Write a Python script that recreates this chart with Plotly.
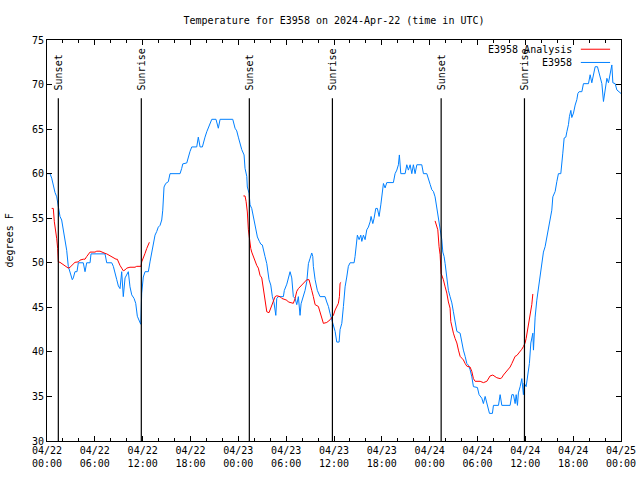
import pandas as pd
import plotly.graph_objects as go

start = pd.Timestamp("2024-04-22 00:00")

# E3958 observed temperature (hours since start, degrees F)
obs_hours = [0, 0.38, 0.59, 0.79, 1.00, 1.22, 1.42, 1.63, 1.84, 2.05, 2.26, 2.47, 2.67, 2.89, 3.17, 3.30, 3.51, 3.76, 3.93, 4.55, 4.77, 4.98, 5.40, 5.52, 7.28, 7.49, 8.12, 8.32, 8.53, 8.75, 8.95, 9.16, 9.37, 9.57, 9.79, 10.00, 10.20, 10.41, 10.63, 10.92, 11.13, 11.33, 11.54, 11.76, 11.88, 12.08, 12.30, 12.71, 12.92, 13.34, 13.55, 13.76, 13.96, 14.18, 14.39, 14.52, 14.68, 14.89, 15.22, 15.43, 16.69, 16.90, 17.03, 17.53, 17.73, 17.94, 18.16, 18.78, 18.98, 19.20, 19.49, 19.61, 19.82, 20.04, 20.24, 20.45, 20.67, 21.20, 21.49, 21.71, 23.30, 23.59, 23.80, 24.00, 24.22, 24.43, 24.72, 24.84, 25.06, 25.13, 25.35, 25.47, 25.68, 25.88, 26.10, 26.22, 26.39, 26.64, 26.81, 27.01, 27.14, 27.35, 27.57, 27.85, 28.07, 28.27, 28.48, 28.70, 28.82, 29.02, 29.65, 29.77, 30.08, 30.28, 30.49, 30.70, 30.90, 31.12, 31.33, 31.53, 31.74, 31.87, 32.16, 32.37, 32.59, 32.79, 33.00, 33.21, 33.34, 33.41, 33.63, 33.91, 34.25, 34.88, 35.09, 35.30, 35.51, 35.72, 35.92, 36.14, 36.35, 36.64, 36.76, 36.98, 37.18, 37.39, 37.60, 37.80, 38.02, 38.52, 38.64, 38.77, 38.93, 39.15, 39.36, 39.49, 39.69, 39.90, 40.11, 40.31, 40.53, 40.65, 40.87, 41.03, 41.24, 41.44, 41.66, 41.87, 42.07, 42.20, 42.41, 42.62, 43.45, 43.66, 43.88, 44.08, 44.20, 44.38, 44.92, 45.13, 45.33, 45.55, 45.76, 45.96, 46.17, 46.39, 47.01, 47.22, 47.64, 47.84, 48.06, 48.27, 48.47, 48.68, 48.81, 48.97, 49.10, 49.31, 49.52, 49.65, 49.81, 49.94, 50.15, 50.35, 50.56, 50.78, 50.98, 51.19, 51.41, 51.82, 52.03, 52.23, 52.45, 52.66, 52.86, 53.07, 53.29, 53.49, 53.99, 54.20, 54.54, 54.74, 54.96, 55.17, 55.37, 55.50, 55.87, 56.00, 56.63, 56.84, 57.05, 58.09, 58.31, 58.51, 58.72, 58.85, 59.01, 59.13, 59.35, 59.56, 59.76, 59.85, 60.10, 60.31, 60.51, 60.69, 60.81, 60.94, 61.02, 61.23, 61.44, 61.64, 61.86, 62.07, 62.27, 62.48, 62.70, 62.90, 63.11, 63.32, 63.45, 63.74, 63.95, 64.15, 64.45, 64.58, 64.70, 64.87, 65.08, 65.21, 65.41, 65.53, 65.71, 65.83, 66.04, 66.25, 66.46, 66.59, 66.75, 67.09, 67.29, 67.92, 68.13, 68.34, 68.54, 68.76, 69.05, 69.26, 69.38, 69.60, 69.80, 70.01, 70.23, 70.43, 70.64, 70.85, 70.98, 71.27, 71.48, 71.81, 72.0]
obs_temps = [60.0, 60.0, 59.5, 58.6, 57.9, 57.4, 56.5, 55.2, 54.8, 53.7, 52.8, 51.4, 49.6, 49.0, 48.1, 48.3, 49.0, 49.0, 50.0, 50.0, 49.0, 50.0, 50.0, 51.0, 51.0, 50.0, 50.0, 49.6, 49.0, 48.1, 47.4, 47.1, 49.0, 46.2, 48.3, 48.6, 49.0, 47.3, 46.4, 46.0, 45.45, 44.0, 43.6, 43.1, 46.6, 48.4, 49.0, 49.0, 50.1, 52.2, 53.1, 53.5, 54.0, 54.2, 54.8, 55.9, 58.5, 58.9, 59.1, 60.0, 60.0, 60.6, 61.1, 61.2, 62.0, 62.5, 63.0, 63.0, 64.1, 63.0, 63.0, 63.5, 64.1, 64.7, 65.1, 65.6, 66.1, 66.1, 65.1, 66.1, 66.1, 65.1, 64.8, 64.1, 63.2, 62.7, 62.1, 60.6, 59.7, 58.5, 57.8, 56.5, 56.1, 55.2, 54.0, 53.5, 52.9, 52.4, 52.1, 52.0, 51.4, 50.7, 49.9, 48.1, 47.5, 46.2, 45.5, 44.1, 46.0, 46.2, 46.2, 46.9, 47.6, 48.3, 49.0, 48.3, 46.2, 46.0, 45.3, 46.2, 44.1, 45.4, 46.2, 46.9, 47.9, 49.9, 50.5, 51.1, 50.7, 49.6, 48.1, 46.9, 46.2, 46.2, 45.6, 45.1, 44.3, 43.6, 42.8, 42.3, 41.1, 41.1, 42.5, 43.2, 45.1, 47.3, 48.4, 49.6, 50.0, 50.0, 50.7, 51.6, 53.1, 52.6, 53.1, 52.4, 53.1, 52.6, 53.7, 54.0, 54.6, 55.2, 54.4, 55.0, 56.1, 56.1, 55.2, 56.5, 57.8, 58.9, 58.4, 59.0, 59.0, 60.0, 60.4, 61.0, 62.1, 60.0, 60.0, 61.0, 60.4, 61.0, 60.0, 61.0, 60.0, 61.0, 61.0, 60.0, 60.0, 59.3, 58.8, 58.2, 58.0, 57.4, 56.6, 56.1, 55.0, 53.7, 52.6, 51.2, 50.7, 49.9, 48.4, 46.9, 46.2, 45.5, 44.5, 43.2, 42.3, 42.1, 41.0, 40.2, 39.5, 38.7, 38.5, 38.0, 37.2, 36.1, 36.0, 35.2, 34.8, 34.2, 35.0, 34.2, 33.7, 33.1, 33.1, 34.0, 34.0, 35.2, 34.0, 34.0, 35.2, 35.2, 34.2, 35.2, 34.0, 35.4, 36.1, 37.0, 35.2, 36.5, 36.1, 37.6, 38.7, 41.0, 41.5, 42.1, 40.2, 43.9, 45.8, 47.1, 48.1, 49.9, 51.2, 51.8, 52.9, 54.0, 54.8, 55.9, 57.4, 58.0, 59.1, 60.0, 60.0, 61.0, 62.3, 64.0, 64.1, 64.7, 65.5, 66.4, 67.1, 66.3, 66.8, 67.7, 68.3, 69.0, 69.2, 69.2, 70.1, 70.1, 71.1, 70.2, 71.1, 72.0, 72.0, 71.3, 71.1, 70.1, 68.1, 69.6, 70.7, 70.2, 71.4, 72.2, 70.2, 70.1, 69.4, 69.2, 69.0]
assert len(obs_hours) == len(obs_temps), (len(obs_hours), len(obs_temps))

# E3958 Analysis: three overnight segments
ana1_hours = [0.59, 0.79, 0.92, 1.09, 1.22, 1.34, 1.42, 1.63, 2.26, 2.67, 2.89, 3.30, 3.51, 3.93, 4.14, 4.55, 4.77, 4.98, 5.18, 5.40, 6.02, 6.24, 6.65, 6.86, 7.28, 7.49, 7.69, 7.90, 8.12, 8.32, 8.66, 8.82, 8.95, 9.16, 9.37, 9.57, 9.79, 10.00, 10.41, 11.04, 11.25, 11.79, 11.88, 12.08, 12.30, 12.51, 12.71, 12.84]
ana1_temps = [56.1, 56.1, 54.6, 53.7, 52.7, 51.6, 50.1, 50.05, 49.7, 49.4, 49.5, 49.9, 50.05, 50.1, 50.3, 50.4, 50.4, 50.7, 51.0, 51.2, 51.2, 51.3, 51.3, 51.2, 51.06, 51.0, 50.9, 50.7, 50.6, 50.5, 50.4, 50.4, 50.1, 49.7, 49.4, 49.1, 49.2, 49.4, 49.5, 49.5, 49.6, 49.6, 50.1, 50.5, 51.06, 51.6, 52.2, 52.3]
ana2_hours = [24.63, 24.84, 24.97, 25.13, 25.26, 25.38, 25.56, 25.68, 25.88, 26.10, 26.31, 26.51, 26.72, 26.94, 27.06, 27.22, 27.35, 27.57, 27.85, 28.07, 28.27, 28.61, 28.82, 29.23, 29.45, 30.08, 30.28, 30.70, 30.90, 31.12, 31.33, 31.53, 31.74, 32.16, 32.59, 32.87, 33.00, 33.21, 33.41, 33.63, 34.04, 34.25, 34.47, 34.67, 35.09, 35.51, 35.72, 35.92, 36.14, 36.35, 36.55, 36.68, 36.76, 36.89]
ana2_temps = [57.5, 57.5, 56.9, 55.7, 53.7, 52.7, 51.6, 51.2, 50.7, 50.1, 49.7, 49.4, 48.6, 48.3, 47.5, 46.6, 45.6, 44.5, 44.4, 44.9, 45.45, 46.2, 46.3, 46.2, 46.0, 45.8, 45.6, 45.45, 45.45, 46.0, 46.8, 47.1, 47.3, 47.7, 48.1, 48.1, 47.5, 46.9, 46.2, 45.3, 45.1, 44.3, 43.8, 43.2, 43.3, 43.6, 43.8, 44.1, 44.7, 45.1, 45.45, 46.2, 47.7, 47.8]
ana3_hours = [48.68, 48.90, 49.02, 49.18, 49.31, 49.44, 49.72, 49.94, 50.15, 50.35, 50.56, 50.65, 50.78, 50.98, 51.19, 51.41, 51.61, 51.82, 52.03, 52.23, 52.45, 52.66, 53.07, 53.29, 53.49, 53.70, 54.33, 54.74, 55.17, 55.37, 55.58, 55.92, 56.21, 56.42, 56.84, 57.05, 57.25, 57.46, 57.68, 57.88, 58.09, 58.31, 58.51, 58.72, 58.94, 59.13, 59.35, 59.56, 59.76, 59.97, 60.10, 60.26, 60.39, 60.51, 60.69, 60.81, 60.94]
ana3_temps = [54.7, 54.2, 53.7, 51.8, 50.9, 48.8, 48.1, 47.3, 46.6, 45.6, 44.9, 43.4, 42.8, 42.1, 41.5, 41.0, 40.2, 39.5, 39.3, 39.1, 38.7, 38.4, 38.3, 37.8, 37.0, 36.7, 36.7, 36.55, 36.7, 37.0, 37.3, 37.4, 37.2, 37.1, 37.0, 37.1, 37.4, 37.6, 37.8, 38.0, 38.3, 38.7, 39.1, 39.5, 39.6, 39.8, 40.1, 40.3, 40.6, 41.0, 41.5, 42.3, 43.0, 43.9, 44.7, 45.3, 46.5]
assert len(ana1_hours) == len(ana1_temps), (len(ana1_hours), len(ana1_temps))
assert len(ana2_hours) == len(ana2_temps), (len(ana2_hours), len(ana2_temps))
assert len(ana3_hours) == len(ana3_temps), (len(ana3_hours), len(ana3_temps))

# Sun events (hours since start)
event_hours = [1.42, 11.83, 25.38, 35.80, 49.44, 59.89]
event_labels = ["Sunset", "Sunrise", "Sunset", "Sunrise", "Sunset", "Sunrise"]
event_line_top = 68.45

title_text = "Temperature for E3958 on 2024-Apr-22 (time in UTC)"
y_label = "degrees F"
series_names = ["E3958 Analysis", "E3958"]
series_colors = ["#ff0000", "#0080ff"]

FONT = "DejaVu Sans Mono"


def to_time(hours):
    return [start + pd.Timedelta(hours=h) for h in hours]


ana_x, ana_y = [], []
for hs, ts in [(ana1_hours, ana1_temps), (ana2_hours, ana2_temps), (ana3_hours, ana3_temps)]:
    ana_x += to_time(hs) + [None]
    ana_y += ts + [None]

fig = go.Figure()
fig.add_trace(go.Scatter(x=to_time(obs_hours), y=obs_temps, mode="lines",
                         line=dict(color=series_colors[1], width=1), name=series_names[1],
                         showlegend=False))
fig.add_trace(go.Scatter(x=ana_x, y=ana_y, mode="lines", connectgaps=False,
                         line=dict(color=series_colors[0], width=1), name=series_names[0],
                         showlegend=False))

shapes = []
annotations = []
for h, lab in zip(event_hours, event_labels):
    t = start + pd.Timedelta(hours=h)
    shapes.append(dict(type="line", xref="x", yref="y", x0=t, x1=t, y0=30, y1=event_line_top,
                       line=dict(color="black", width=1.2)))
    annotations.append(dict(xref="x", yref="y", x=t, y=event_line_top + 0.7, text=lab,
                            textangle=-90, showarrow=False, xanchor="center", yanchor="bottom",
                            font=dict(family=FONT, size=10, color="black")))

# legend (gnuplot style: text right, sample left of right edge)
leg_y = [0.977, 0.944]
for name, col, yy in zip(series_names, series_colors, leg_y):
    annotations.append(dict(xref="paper", yref="paper", x=0.918, y=yy, text=name,
                            showarrow=False, xanchor="right", yanchor="middle",
                            font=dict(family=FONT, size=10, color="black")))
    shapes.append(dict(type="line", xref="paper", yref="paper", x0=0.930, x1=0.981, y0=yy, y1=yy,
                       line=dict(color=col, width=1)))

annotations.append(dict(xref="paper", yref="paper", x=-0.0645, y=0.5, text=y_label,
                        textangle=-90, showarrow=False, xanchor="center", yanchor="middle",
                        font=dict(family=FONT, size=10, color="black")))

fig.update_layout(
    width=640, height=480,
    margin=dict(l=47, r=19, t=40, b=39, autoexpand=False),
    paper_bgcolor="white", plot_bgcolor="white",
    title=dict(text=title_text, xref="paper", x=0.5, xanchor="center",
               yref="container", y=0.958, yanchor="middle",
               font=dict(family=FONT, size=10, color="black")),
    font=dict(family=FONT, size=10, color="black"),
    shapes=shapes, annotations=annotations,
    showlegend=False,
)
fig.update_xaxes(
    automargin=False,
    range=[start, start + pd.Timedelta(hours=72)],
    tickmode="linear", tick0=start, dtick=6 * 3600 * 1000,
    tickformat="%m/%d<br>%H:%M",
    ticks="inside", ticklen=5, tickcolor="black",
    minor=dict(dtick=2 * 3600 * 1000, ticks="inside", ticklen=3, tickcolor="black"),
    showline=True, linecolor="black", linewidth=1, mirror="ticks",
    showgrid=False, zeroline=False,
    tickfont=dict(family=FONT, size=10, color="black"),
)
fig.update_yaxes(
    automargin=False,
    range=[30, 75], tickmode="linear", tick0=30, dtick=5,
    ticks="inside", ticklen=5, tickcolor="black",
    showline=True, linecolor="black", linewidth=1, mirror="ticks",
    showgrid=False, zeroline=False,
    tickfont=dict(family=FONT, size=10, color="black"),
)

fig.write_html("out.html")
